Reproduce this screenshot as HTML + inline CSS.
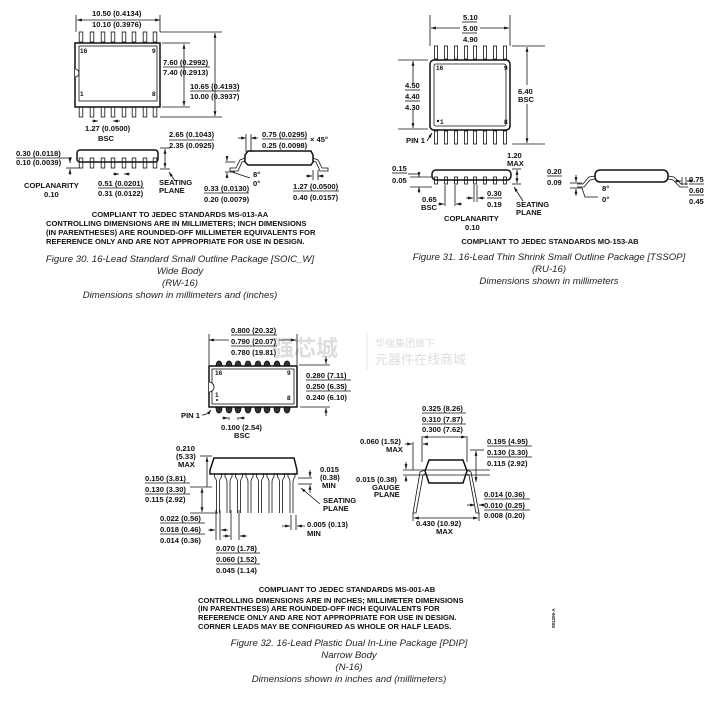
<!DOCTYPE html>
<html><head><meta charset="utf-8"><style>
html,body{margin:0;padding:0;background:#fff;}
svg{display:block;}
.t{font-family:"Liberation Sans",Arial,sans-serif;font-weight:bold;font-size:7.6px;fill:#111;}
.c{font-family:"Liberation Sans",Arial,sans-serif;font-style:italic;font-size:9.6px;fill:#222;}
.w1{font-family:"Liberation Sans","Noto Sans CJK SC",sans-serif;font-weight:bold;font-size:22px;fill:#ddd;}
.w2{font-family:"Liberation Sans","Noto Sans CJK SC",sans-serif;font-size:10px;fill:#ddd;}
.w3{font-family:"Liberation Sans","Noto Sans CJK SC",sans-serif;font-size:13px;fill:#ddd;}
line,path,rect,polyline{stroke:#111;stroke-width:0.8;fill:none;}
.k{stroke-width:1.5;}
.ar{fill:#111;stroke:none;}
</style></head><body>
<svg width="719" height="705" viewBox="0 0 719 705" xmlns="http://www.w3.org/2000/svg">
<defs>
<marker id="a" viewBox="0 0 10 10" refX="10" refY="5" markerWidth="6" markerHeight="6" orient="auto-start-reverse"><path d="M0,2 L10,5 L0,8z" class="ar"/></marker>
<g id="sl"><rect x="-1.8" y="0" width="3.6" height="10"/></g>
<g id="tl"><rect x="-1.6" y="0" width="3.2" height="13"/></g>
<g id="db"><path d="M-3,6 Q-3,0 0,0 Q3,0 3,6z" style="fill:#333"/></g>
<g id="pl"><path d="M-3.5,0 L-3.5,4 Q-1.5,6 -1.5,9 L-1.5,40 M3.5,0 L3.5,4 Q1.5,6 1.5,9 L1.5,40"/></g>
</defs>

<!-- ===== FIG 30 ===== -->
<text class="t" x="92" y="16">10.50 (0.4134)</text>
<line x1="77" y1="20" x2="160" y2="20" marker-start="url(#a)" marker-end="url(#a)"/>
<text class="t" x="92" y="27">10.10 (0.3976)</text>
<line x1="76" y1="15" x2="76" y2="32"/><line x1="160" y1="15" x2="160" y2="32"/>
<g>
<use href="#sl" x="81" y="32"/><use href="#sl" x="92" y="32"/><use href="#sl" x="103" y="32"/><use href="#sl" x="113" y="32"/><use href="#sl" x="124" y="32"/><use href="#sl" x="134" y="32"/><use href="#sl" x="145" y="32"/><use href="#sl" x="155" y="32"/>
<use href="#sl" x="81" y="107"/><use href="#sl" x="92" y="107"/><use href="#sl" x="103" y="107"/><use href="#sl" x="113" y="107"/><use href="#sl" x="124" y="107"/><use href="#sl" x="134" y="107"/><use href="#sl" x="145" y="107"/><use href="#sl" x="155" y="107"/>
</g>
<rect x="75" y="43" width="85" height="64" style="fill:#fff" class="k"/>
<rect x="79" y="46" width="78" height="55"/>
<path d="M75,69 A4,4 0 0 1 75,77" style="fill:#fff"/>
<text class="t" x="80" y="53" style="font-size:6.5px">16</text><text class="t" x="152" y="53" style="font-size:6.5px">9</text>
<text class="t" x="80" y="96" style="font-size:6.5px">1</text><text class="t" x="152" y="96" style="font-size:6.5px">8</text>
<line x1="162" y1="43" x2="190" y2="43"/><line x1="162" y1="107" x2="190" y2="107"/>
<line x1="184" y1="44" x2="184" y2="106" marker-start="url(#a)" marker-end="url(#a)"/>
<text class="t" x="163" y="65">7.60 (0.2992)</text><line x1="163" y1="67" x2="210" y2="67"/><text class="t" x="163" y="75">7.40 (0.2913)</text>
<line x1="160" y1="32" x2="222" y2="32"/><line x1="160" y1="117" x2="222" y2="117"/>
<line x1="215" y1="33" x2="215" y2="116" marker-start="url(#a)" marker-end="url(#a)"/>
<text class="t" x="190" y="89">10.65 (0.4193)</text><line x1="190" y1="91" x2="240" y2="91"/><text class="t" x="190" y="99">10.00 (0.3937)</text>
<line x1="92" y1="121" x2="98" y2="121" marker-end="url(#a)"/><line x1="120" y1="121" x2="113" y2="121" marker-end="url(#a)"/>
<text class="t" x="85" y="131">1.27 (0.0500)</text><text class="t" x="98" y="141">BSC</text>
<!-- side -->
<rect x="77" y="150" width="81" height="12" rx="3" class="k"/>
<g><use href="#sl" x="81" y="158"/><use href="#sl" x="92" y="158"/><use href="#sl" x="103" y="158"/><use href="#sl" x="113" y="158"/><use href="#sl" x="124" y="158"/><use href="#sl" x="134" y="158"/><use href="#sl" x="145" y="158"/><use href="#sl" x="155" y="158"/></g>
<text class="t" x="16" y="156">0.30 (0.0118)</text><line x1="16" y1="158" x2="62" y2="158"/><text class="t" x="16" y="165">0.10 (0.0039)</text>
<line x1="62" y1="158" x2="72" y2="158"/><line x1="70" y1="157" x2="70" y2="163" marker-end="url(#a)"/><line x1="70" y1="175" x2="70" y2="169" marker-end="url(#a)"/>
<line x1="66" y1="168" x2="80" y2="168"/>
<text class="t" x="24" y="188">COPLANARITY</text><text class="t" x="44" y="197">0.10</text>
<line x1="113" y1="174" x2="119" y2="174" marker-end="url(#a)"/><line x1="130" y1="174" x2="124" y2="174" marker-end="url(#a)"/>
<text class="t" x="98" y="186">0.51 (0.0201)</text><line x1="98" y1="188" x2="144" y2="188"/><text class="t" x="98" y="196">0.31 (0.0122)</text>
<line x1="160" y1="148" x2="170" y2="148"/><line x1="160" y1="169" x2="170" y2="169"/>
<line x1="165" y1="149" x2="165" y2="168" marker-start="url(#a)" marker-end="url(#a)"/>
<line x1="175" y1="181" x2="169" y2="172" marker-end="url(#a)"/>
<text class="t" x="159" y="185">SEATING</text><text class="t" x="159" y="193">PLANE</text>
<text class="t" x="169" y="137">2.65 (0.1043)</text><line x1="169" y1="140" x2="214" y2="140"/><text class="t" x="169" y="148">2.35 (0.0925)</text>
<!-- detail -->
<path d="M245,155 L248,151 L311,151 L313,155 L313,162 L311,165 L248,165 L245,162z" class="k"/>
<path d="M245,158 L240,160 L236,168 L230,168 L230,171 L238,171 L242,162 L245,161"/>
<path d="M313,158 L318,160 L322,168 L328,168 L328,171 L320,171 L316,162 L313,161"/>
<line x1="238" y1="138" x2="246" y2="138" marker-end="url(#a)"/><line x1="258" y1="138" x2="251" y2="138" marker-end="url(#a)"/>
<line x1="246" y1="134" x2="246" y2="152"/><line x1="251" y1="134" x2="251" y2="152"/>
<text class="t" x="262" y="137">0.75 (0.0295)</text><line x1="262" y1="139" x2="307" y2="139"/><text class="t" x="262" y="148">0.25 (0.0098)</text>
<text class="t" x="310" y="142">× 45°</text>
<line x1="225" y1="162" x2="235" y2="162"/><line x1="225" y1="172" x2="235" y2="172"/>
<line x1="227" y1="156" x2="227" y2="161" marker-end="url(#a)"/><line x1="227" y1="178" x2="227" y2="173" marker-end="url(#a)"/>
<line x1="232" y1="172" x2="250" y2="178"/>
<text class="t" x="253" y="177">8°</text><text class="t" x="253" y="186">0°</text>
<text class="t" x="204" y="191">0.33 (0.0130)</text><line x1="204" y1="193" x2="249" y2="193"/><text class="t" x="204" y="202">0.20 (0.0079)</text>
<line x1="306" y1="176" x2="312" y2="176" marker-end="url(#a)"/><line x1="324" y1="176" x2="318" y2="176" marker-end="url(#a)"/>
<line x1="313" y1="170" x2="313" y2="180"/><line x1="318" y1="170" x2="318" y2="180"/>
<text class="t" x="293" y="189">1.27 (0.0500)</text><line x1="293" y1="191" x2="339" y2="191"/><text class="t" x="293" y="200">0.40 (0.0157)</text>
<text class="t" x="180" y="217" text-anchor="middle">COMPLIANT TO JEDEC STANDARDS MS-013-AA</text>
<text class="t" x="46" y="226">CONTROLLING DIMENSIONS ARE IN MILLIMETERS; INCH DIMENSIONS</text>
<text class="t" x="46" y="235">(IN PARENTHESES) ARE ROUNDED-OFF MILLIMETER EQUIVALENTS FOR</text>
<text class="t" x="46" y="244">REFERENCE ONLY AND ARE NOT APPROPRIATE FOR USE IN DESIGN.</text>
<text class="c" x="180" y="262" text-anchor="middle">Figure 30. 16-Lead Standard Small Outline Package [SOIC_W]</text>
<text class="c" x="180" y="274" text-anchor="middle">Wide Body</text>
<text class="c" x="180" y="286" text-anchor="middle">(RW-16)</text>
<text class="c" x="180" y="298" text-anchor="middle">Dimensions shown in millimeters and (inches)</text>

<!-- ===== FIG 31 ===== -->
<text class="t" x="463" y="20">5.10</text><text class="t" x="463" y="31">5.00</text><line x1="462" y1="33" x2="477" y2="33"/><line x1="462" y1="22" x2="477" y2="22"/><text class="t" x="463" y="42">4.90</text>
<line x1="431" y1="28" x2="460" y2="28" marker-start="url(#a)"/><line x1="480" y1="28" x2="509" y2="28" marker-end="url(#a)"/>
<line x1="430" y1="15" x2="430" y2="46"/><line x1="510" y1="15" x2="510" y2="46"/>
<g>
<use href="#tl" x="436" y="46"/><use href="#tl" x="446" y="46"/><use href="#tl" x="456" y="46"/><use href="#tl" x="466" y="46"/><use href="#tl" x="475" y="46"/><use href="#tl" x="485" y="46"/><use href="#tl" x="495" y="46"/><use href="#tl" x="505" y="46"/>
<use href="#tl" x="436" y="131"/><use href="#tl" x="446" y="131"/><use href="#tl" x="456" y="131"/><use href="#tl" x="466" y="131"/><use href="#tl" x="475" y="131"/><use href="#tl" x="485" y="131"/><use href="#tl" x="495" y="131"/><use href="#tl" x="505" y="131"/>
</g>
<rect x="430" y="60" width="80" height="70" rx="4" style="fill:#fff" class="k"/>
<rect x="434" y="64" width="72" height="62" rx="2"/>
<text class="t" x="436" y="70" style="font-size:6.5px">16</text><text class="t" x="504" y="70" style="font-size:6.5px">9</text>
<circle cx="438" cy="121" r="1.2" class="ar"/><text class="t" x="440" y="124" style="font-size:6.5px">1</text><text class="t" x="504" y="124" style="font-size:6.5px">8</text>
<line x1="398" y1="60" x2="428" y2="60"/><line x1="398" y1="129" x2="428" y2="129"/>
<line x1="413" y1="61" x2="413" y2="84" marker-start="url(#a)"/><line x1="413" y1="110" x2="413" y2="128" marker-end="url(#a)"/>
<text class="t" x="405" y="88">4.50</text><line x1="405" y1="90" x2="420" y2="90"/><text class="t" x="405" y="99">4.40</text><line x1="405" y1="101" x2="420" y2="101"/><text class="t" x="405" y="110">4.30</text>
<line x1="512" y1="46" x2="545" y2="46"/><line x1="512" y1="144" x2="545" y2="144"/>
<line x1="527" y1="47" x2="527" y2="85" marker-start="url(#a)"/><line x1="527" y1="104" x2="527" y2="143" marker-end="url(#a)"/>
<text class="t" x="518" y="94">6.40</text><text class="t" x="518" y="102">BSC</text>
<text class="t" x="406" y="143">PIN 1</text><line x1="427" y1="141" x2="432" y2="133" marker-end="url(#a)"/>
<!-- side -->
<rect x="432" y="170" width="79" height="10" rx="4" class="k"/>
<g style="stroke-width:0.8"><rect x="434.5" y="177" width="3" height="7"/><rect x="444.5" y="177" width="3" height="7"/><rect x="454.5" y="177" width="3" height="7"/><rect x="464.5" y="177" width="3" height="7"/><rect x="473.5" y="177" width="3" height="7"/><rect x="483.5" y="177" width="3" height="7"/><rect x="493.5" y="177" width="3" height="7"/><rect x="503.5" y="177" width="3" height="7"/></g>
<text class="t" x="392" y="171">0.15</text><line x1="392" y1="173" x2="407" y2="173"/><text class="t" x="392" y="183">0.05</text>
<line x1="410" y1="177" x2="432" y2="177"/><line x1="410" y1="187" x2="432" y2="187"/><line x1="408" y1="174" x2="418" y2="174"/>
<line x1="419" y1="172" x2="419" y2="177" marker-end="url(#a)"/><line x1="419" y1="193" x2="419" y2="187" marker-end="url(#a)"/>
<text class="t" x="507" y="158">1.20</text><text class="t" x="507" y="166">MAX</text>
<line x1="512" y1="169" x2="521" y2="169"/><line x1="512" y1="184" x2="521" y2="184"/>
<line x1="517" y1="170" x2="517" y2="183" marker-start="url(#a)" marker-end="url(#a)"/>
<line x1="523" y1="201" x2="514" y2="187" marker-end="url(#a)"/>
<text class="t" x="516" y="207">SEATING</text><text class="t" x="516" y="215">PLANE</text>
<line x1="445" y1="185" x2="445" y2="206"/><line x1="455" y1="185" x2="455" y2="206"/>
<line x1="438" y1="204" x2="444" y2="204" marker-end="url(#a)"/><line x1="462" y1="204" x2="456" y2="204" marker-end="url(#a)"/>
<text class="t" x="422" y="202">0.65</text><text class="t" x="421" y="210">BSC</text>
<line x1="474" y1="185" x2="474" y2="202"/><line x1="477" y1="185" x2="477" y2="202"/>
<line x1="466" y1="198" x2="473" y2="198" marker-end="url(#a)"/><line x1="485" y1="198" x2="478" y2="198" marker-end="url(#a)"/>
<text class="t" x="487" y="196">0.30</text><line x1="487" y1="198" x2="502" y2="198"/><text class="t" x="487" y="207">0.19</text>
<text class="t" x="444" y="221">COPLANARITY</text><text class="t" x="465" y="230">0.10</text>
<!-- detail -->
<rect x="595" y="170" width="73" height="12" rx="5" class="k"/>
<path d="M595,176 L589,177 L583,184 L577,184 M595,179 L590,180 L584,187 L577,187"/>
<path d="M668,176 L674,177 L681,184 L688,184 M668,179 L673,180 L680,187 L688,187"/>
<line x1="570" y1="183" x2="582" y2="183"/><line x1="570" y1="188" x2="582" y2="188"/>
<line x1="576" y1="175" x2="576" y2="182" marker-end="url(#a)"/><line x1="576" y1="196" x2="576" y2="189" marker-end="url(#a)"/>
<line x1="582" y1="188" x2="585" y2="197"/><line x1="585" y1="197" x2="598" y2="197"/>
<text class="t" x="547" y="174">0.20</text><line x1="547" y1="176" x2="562" y2="176"/><text class="t" x="547" y="185">0.09</text>
<text class="t" x="602" y="191">8°</text><text class="t" x="602" y="202">0°</text>
<line x1="675" y1="181" x2="681" y2="181" marker-end="url(#a)"/><line x1="693" y1="181" x2="687" y2="181" marker-end="url(#a)"/>
<line x1="682" y1="177" x2="682" y2="185"/><line x1="686" y1="177" x2="686" y2="185"/>
<text class="t" x="689" y="182">0.75</text><line x1="689" y1="184" x2="704" y2="184"/><text class="t" x="689" y="193">0.60</text><line x1="689" y1="195" x2="704" y2="195"/><text class="t" x="689" y="204">0.45</text>
<text class="t" x="550" y="244" text-anchor="middle">COMPLIANT TO JEDEC STANDARDS MO-153-AB</text>
<text class="c" x="549" y="260" text-anchor="middle">Figure 31. 16-Lead Thin Shrink Small Outline Package [TSSOP]</text>
<text class="c" x="549" y="272" text-anchor="middle">(RU-16)</text>
<text class="c" x="549" y="284" text-anchor="middle">Dimensions shown in millimeters</text>

<!-- watermark -->
<text class="w1" x="272" y="356">强芯城</text>
<line x1="367" y1="333" x2="367" y2="370" style="stroke:#e4e4e4"/>
<text class="w2" x="375" y="347">华强集团旗下</text>
<text class="w3" x="375" y="364">元器件在线商城</text>

<!-- ===== FIG 32 ===== -->
<text class="t" x="231" y="333">0.800 (20.32)</text><line x1="231" y1="335" x2="277" y2="335"/>
<text class="t" x="231" y="344">0.790 (20.07)</text><line x1="231" y1="346" x2="277" y2="346"/>
<text class="t" x="231" y="355">0.780 (19.81)</text>
<line x1="209" y1="340" x2="229" y2="340" marker-start="url(#a)"/><line x1="279" y1="340" x2="296" y2="340" marker-end="url(#a)"/>
<line x1="209" y1="334" x2="209" y2="365"/><line x1="297" y1="334" x2="297" y2="365"/>
<g>
<use href="#db" x="219" y="361"/><use href="#db" x="229" y="361"/><use href="#db" x="238" y="361"/><use href="#db" x="248" y="361"/><use href="#db" x="258" y="361"/><use href="#db" x="267" y="361"/><use href="#db" x="277" y="361"/><use href="#db" x="287" y="361"/>
<g transform="translate(0,774) scale(1,-1)"><use href="#db" x="219" y="361"/><use href="#db" x="229" y="361"/><use href="#db" x="238" y="361"/><use href="#db" x="248" y="361"/><use href="#db" x="258" y="361"/><use href="#db" x="267" y="361"/><use href="#db" x="277" y="361"/><use href="#db" x="287" y="361"/></g>
</g>
<rect x="209" y="366" width="88" height="41" style="fill:#fff" class="k"/>
<rect x="212" y="369" width="82" height="35"/>
<path d="M209,382 A5,5 0 0 1 209,392" style="fill:#fff"/>
<text class="t" x="215" y="375" style="font-size:6.5px">16</text><text class="t" x="287" y="375" style="font-size:6.5px">9</text>
<text class="t" x="215" y="397" style="font-size:6.5px">1</text><circle cx="217" cy="400" r="1" class="ar"/><text class="t" x="287" y="400" style="font-size:6.5px">8</text>
<line x1="299" y1="365" x2="330" y2="365"/><line x1="300" y1="407" x2="330" y2="407"/>
<line x1="326" y1="356" x2="326" y2="364" marker-end="url(#a)"/><line x1="326" y1="416" x2="326" y2="408" marker-end="url(#a)"/>
<text class="t" x="306" y="378">0.280 (7.11)</text><line x1="306" y1="380" x2="351" y2="380"/>
<text class="t" x="306" y="389">0.250 (6.35)</text><line x1="306" y1="391" x2="351" y2="391"/>
<text class="t" x="306" y="400">0.240 (6.10)</text>
<text class="t" x="181" y="418">PIN 1</text><path d="M202,415 Q207,415 211,410" marker-end="url(#a)"/>
<line x1="229" y1="417" x2="229" y2="420"/><line x1="238" y1="417" x2="238" y2="420"/>
<line x1="222" y1="418" x2="228" y2="418" marker-end="url(#a)"/><line x1="245" y1="418" x2="239" y2="418" marker-end="url(#a)"/>
<text class="t" x="221" y="430">0.100 (2.54)</text><text class="t" x="234" y="438">BSC</text>
<!-- side -->
<path d="M214,458 L294,458 L297,470 L297,474 L210,474 L210,470z" class="k"/>
<g>
<use href="#pl" x="218" y="473"/><use href="#pl" x="228.5" y="473"/><use href="#pl" x="239" y="473"/><use href="#pl" x="249.5" y="473"/><use href="#pl" x="260" y="473"/><use href="#pl" x="270.5" y="473"/><use href="#pl" x="281" y="473"/><use href="#pl" x="291.5" y="473"/>
</g>
<text class="t" x="176" y="451">0.210</text><text class="t" x="176" y="459">(5.33)</text><text class="t" x="178" y="467">MAX</text>
<line x1="200" y1="456" x2="212" y2="456"/>
<line x1="207" y1="457" x2="207" y2="487" marker-start="url(#a)"/>
<line x1="190" y1="487" x2="212" y2="487"/><line x1="190" y1="513" x2="218" y2="513"/>
<line x1="202" y1="488" x2="202" y2="512" marker-start="url(#a)" marker-end="url(#a)"/>
<text class="t" x="145" y="481">0.150 (3.81)</text><line x1="145" y1="483" x2="190" y2="483"/>
<text class="t" x="145" y="492">0.130 (3.30)</text><line x1="145" y1="494" x2="190" y2="494"/>
<text class="t" x="145" y="502">0.115 (2.92)</text>
<line x1="298" y1="484" x2="312" y2="484"/><line x1="298" y1="478" x2="312" y2="478"/>
<line x1="310" y1="470" x2="310" y2="477" marker-end="url(#a)"/><line x1="310" y1="493" x2="310" y2="485" marker-end="url(#a)"/>
<text class="t" x="320" y="472">0.015</text><text class="t" x="320" y="480">(0.38)</text><text class="t" x="322" y="488">MIN</text>
<line x1="320" y1="504" x2="301" y2="488" marker-end="url(#a)"/>
<text class="t" x="323" y="503">SEATING</text><text class="t" x="323" y="511">PLANE</text>
<line x1="216" y1="510" x2="216" y2="540"/><line x1="220" y1="510" x2="220" y2="540"/>
<line x1="208" y1="530" x2="215" y2="530" marker-end="url(#a)"/><line x1="228" y1="530" x2="221" y2="530" marker-end="url(#a)"/>
<text class="t" x="160" y="521">0.022 (0.56)</text><line x1="160" y1="523" x2="205" y2="523"/>
<text class="t" x="160" y="532">0.018 (0.46)</text><line x1="160" y1="534" x2="205" y2="534"/>
<text class="t" x="160" y="543">0.014 (0.36)</text>
<line x1="231" y1="510" x2="231" y2="540"/><line x1="239" y1="510" x2="239" y2="540"/>
<line x1="223" y1="536" x2="230" y2="536" marker-end="url(#a)"/><line x1="247" y1="536" x2="240" y2="536" marker-end="url(#a)"/>
<text class="t" x="216" y="551">0.070 (1.78)</text><line x1="216" y1="553" x2="260" y2="553"/>
<text class="t" x="216" y="562">0.060 (1.52)</text><line x1="216" y1="564" x2="260" y2="564"/>
<text class="t" x="216" y="573">0.045 (1.14)</text>
<line x1="291" y1="515" x2="291" y2="530"/><line x1="296" y1="515" x2="296" y2="530"/>
<line x1="282" y1="526" x2="290" y2="526" marker-end="url(#a)"/><line x1="305" y1="526" x2="297" y2="526" marker-end="url(#a)"/>
<text class="t" x="307" y="527">0.005 (0.13)</text><text class="t" x="307" y="536">MIN</text>
<!-- end view -->
<text class="t" x="422" y="411">0.325 (8.26)</text><line x1="422" y1="413" x2="466" y2="413"/>
<text class="t" x="422" y="422">0.310 (7.87)</text><line x1="422" y1="424" x2="466" y2="424"/>
<text class="t" x="422" y="432">0.300 (7.62)</text>
<line x1="422" y1="436" x2="422" y2="462"/><line x1="467" y1="436" x2="467" y2="462"/>
<line x1="423" y1="437" x2="466" y2="437" marker-start="url(#a)" marker-end="url(#a)"/>
<path d="M429,460 L463,460 L467,471 L463,483 L429,483 L425,471z" class="k"/>
<path d="M425,470 L420,472 L413,513 L416,513 L423,475 L425,474"/>
<path d="M467,470 L471,472 L479,513 L476,513 L469,475 L467,474"/>
<line x1="403" y1="470" x2="490" y2="470"/><line x1="403" y1="475" x2="490" y2="475"/>
<line x1="406" y1="462" x2="406" y2="469" marker-end="url(#a)"/><line x1="406" y1="482" x2="406" y2="476" marker-end="url(#a)"/>
<line x1="413" y1="442" x2="413" y2="470"/>
<line x1="405" y1="444" x2="412" y2="444" marker-end="url(#a)"/><line x1="428" y1="444" x2="423" y2="444" marker-end="url(#a)"/>
<text class="t" x="360" y="444">0.060 (1.52)</text><text class="t" x="386" y="452">MAX</text>
<text class="t" x="356" y="482">0.015 (0.38)</text><text class="t" x="372" y="490">GAUGE</text><text class="t" x="374" y="497">PLANE</text>
<line x1="470" y1="450" x2="484" y2="450"/>
<line x1="476" y1="451" x2="476" y2="482" marker-start="url(#a)" marker-end="url(#a)"/>
<text class="t" x="487" y="444">0.195 (4.95)</text><line x1="487" y1="446" x2="532" y2="446"/>
<text class="t" x="487" y="455">0.130 (3.30)</text><line x1="487" y1="457" x2="532" y2="457"/>
<text class="t" x="487" y="466">0.115 (2.92)</text>
<line x1="467" y1="505" x2="475" y2="505" marker-end="url(#a)"/><line x1="484" y1="505" x2="479" y2="505" marker-end="url(#a)"/>
<text class="t" x="484" y="497">0.014 (0.36)</text><line x1="484" y1="499" x2="530" y2="499"/>
<text class="t" x="484" y="508">0.010 (0.25)</text><line x1="484" y1="510" x2="530" y2="510"/>
<text class="t" x="484" y="518">0.008 (0.20)</text>
<line x1="413" y1="513" x2="413" y2="521"/><line x1="479" y1="513" x2="479" y2="521"/>
<line x1="414" y1="518" x2="478" y2="518" marker-start="url(#a)" marker-end="url(#a)"/>
<text class="t" x="416" y="526">0.430 (10.92)</text><text class="t" x="436" y="534">MAX</text>
<text class="t" x="347" y="592" text-anchor="middle">COMPLIANT TO JEDEC STANDARDS MS-001-AB</text>
<text class="t" x="198" y="603">CONTROLLING DIMENSIONS ARE IN INCHES; MILLIMETER DIMENSIONS</text>
<text class="t" x="198" y="611">(IN PARENTHESES) ARE ROUNDED-OFF INCH EQUIVALENTS FOR</text>
<text class="t" x="198" y="620">REFERENCE ONLY AND ARE NOT APPROPRIATE FOR USE IN DESIGN.</text>
<text class="t" x="198" y="629">CORNER LEADS MAY BE CONFIGURED AS WHOLE OR HALF LEADS.</text>
<text class="t" x="555" y="628" transform="rotate(-90 555 628)" style="font-size:4.5px">091206-A</text>
<text class="c" x="349" y="646" text-anchor="middle">Figure 32. 16-Lead Plastic Dual In-Line Package [PDIP]</text>
<text class="c" x="349" y="658" text-anchor="middle">Narrow Body</text>
<text class="c" x="349" y="670" text-anchor="middle">(N-16)</text>
<text class="c" x="349" y="682" text-anchor="middle">Dimensions shown in inches and (millimeters)</text>
</svg>
</body></html>
